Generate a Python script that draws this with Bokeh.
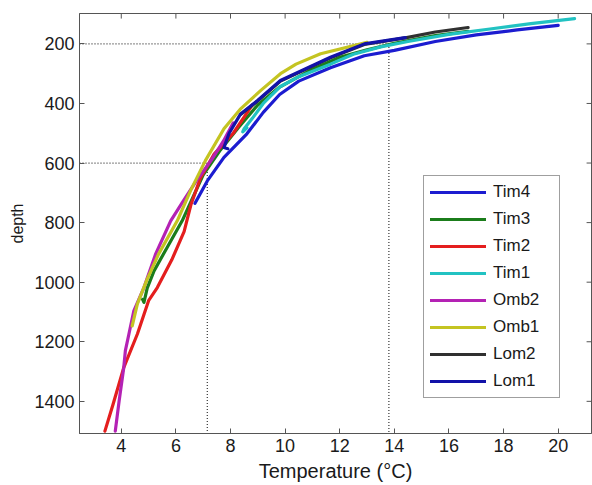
from bokeh.plotting import figure
from bokeh.models import Range1d, FixedTicker, Legend, LegendItem
from bokeh.embed import file_html
from bokeh.resources import INLINE

# ---- data (temperature °C, depth) ----
tim4_temp  = [20.0, 18.5, 17.0, 15.5, 14.0, 12.9, 11.66, 10.5, 9.8, 9.2, 8.6, 7.76, 7.15, 6.7]
tim4_depth = [138, 153, 170, 192, 222, 240, 280, 325, 370, 430, 502, 581, 660, 735]

tim3_temp  = [16.7, 15.5, 14.0, 13.0, 12.0, 11.0, 9.8, 9.0, 8.3, 7.6, 7.0, 6.6, 6.23, 5.7, 5.2, 4.95, 4.83, 4.78]
tim3_depth = [158, 172, 198, 220, 245, 285, 345, 405, 480, 560, 640, 720, 794, 880, 962, 1020, 1068, 1058]

tim2_temp  = [8.8, 8.1, 7.4, 6.9, 6.55, 6.3, 5.85, 5.32, 5.0, 4.59, 4.09, 3.7, 3.4]
tim2_depth = [405, 500, 570, 650, 740, 830, 925, 1018, 1062, 1174, 1287, 1410, 1500]

tim1_temp  = [20.6, 19.0, 17.5, 16.0, 14.5, 13.5, 12.5, 11.66, 10.5, 9.83, 9.2, 8.8, 8.5, 8.45, 8.6]
tim1_depth = [115, 132, 150, 168, 192, 210, 235, 268, 310, 343, 400, 450, 485, 495, 482]

omb2_temp  = [8.1, 7.75, 7.3, 6.75, 6.25, 5.81, 5.26, 4.83, 4.46, 4.28, 4.15, 4.09, 3.92, 3.78]
omb2_depth = [465, 525, 590, 660, 730, 794, 905, 1018, 1096, 1174, 1230, 1287, 1400, 1500]

omb1_temp  = [13.0, 11.3, 10.4, 9.83, 9.1, 8.35, 7.76, 7.08, 6.55, 6.05, 5.37, 4.95, 4.59, 4.4]
omb1_depth = [195, 233, 268, 300, 357, 420, 485, 592, 690, 794, 905, 990, 1073, 1147]

lom2_temp  = [16.7, 15.5, 14.4, 12.9, 11.66, 9.83, 8.98, 8.37]
lom2_depth = [145, 160, 180, 202, 247, 325, 393, 437]

lom1_temp  = [14.4, 12.9, 11.66, 9.83, 8.98, 8.37, 7.95, 7.76, 7.9]
lom1_depth = [179, 200, 245, 323, 391, 435, 500, 548, 552]

series_names = ["Tim4", "Tim3", "Tim2", "Tim1", "Omb2", "Omb1", "Lom2", "Lom1"]
series_temp = [tim4_temp, tim3_temp, tim2_temp, tim1_temp, omb2_temp, omb1_temp, lom2_temp, lom1_temp]
series_depth = [tim4_depth, tim3_depth, tim2_depth, tim1_depth, omb2_depth, omb1_depth, lom2_depth, lom1_depth]
series_colors = ["#1c1cd0", "#1b7d1b", "#e41e1e", "#22c2c2", "#b422b4", "#c4c422", "#303030", "#1212a8"]

ref_temps = [13.8, 7.15]
ref_depths = [200, 600]

x_ticks = [4, 6, 8, 10, 12, 14, 16, 18, 20]
y_ticks = [200, 400, 600, 800, 1000, 1200, 1400]

X_MIN, X_MAX = 2.47, 21.22
Y_BOTTOM, Y_TOP = 1508, 98
TICK_X = 0.18   # ~5 px in temperature units
TICK_Y = 17     # ~5 px in depth units

FONT = "Liberation Sans"
TXT = "#1a1a1a"
AX = "#555555"

p = figure(width=592, height=485, output_backend="svg", toolbar_location=None,
           x_range=Range1d(X_MIN, X_MAX), y_range=Range1d(Y_BOTTOM, Y_TOP))
p.min_border_left = 79
p.min_border_right = 1
p.min_border_top = 13
p.min_border_bottom = 52
p.background_fill_color = "white"
p.border_fill_color = "white"
p.outline_line_color = AX
p.outline_line_width = 1
p.xgrid.visible = False
p.ygrid.visible = False

for ax in (p.xaxis[0], p.yaxis[0]):
    ax.major_tick_in = 5
    ax.major_tick_out = 0
    ax.minor_tick_line_color = None
    ax.axis_line_color = AX
    ax.major_tick_line_color = AX
    ax.major_label_text_font = FONT
    ax.major_label_text_font_size = "18px"
    ax.major_label_text_color = TXT
    ax.axis_label_text_font = FONT
    ax.axis_label_text_font_style = "normal"
    ax.axis_label_text_color = TXT

p.xaxis.ticker = FixedTicker(ticks=x_ticks)
p.yaxis.ticker = FixedTicker(ticks=y_ticks)
p.xaxis.axis_label = "Temperature (°C)"
p.yaxis.axis_label = "depth"
p.xaxis.axis_label_text_font_size = "20px"
p.yaxis.axis_label_text_font_size = "16px"
p.xaxis.major_label_standoff = 5
p.xaxis.axis_label_standoff = 5
p.yaxis.major_label_standoff = 5
p.yaxis.axis_label_standoff = 5

# mirrored tick marks on the top and right edges of the box
p.segment(x0=x_ticks, y0=[Y_TOP] * len(x_ticks), x1=x_ticks, y1=[Y_TOP + TICK_Y] * len(x_ticks),
          line_color=AX, line_width=1)
p.segment(x0=[X_MAX] * len(y_ticks), y0=y_ticks, x1=[X_MAX - TICK_X] * len(y_ticks), y1=y_ticks,
          line_color=AX, line_width=1)

# dotted reference lines
p.segment(x0=[X_MIN] * len(ref_temps), y0=ref_depths, x1=ref_temps, y1=ref_depths,
          line_color="#333333", line_width=1.2, line_dash="1 2")
p.segment(x0=ref_temps, y0=ref_depths, x1=ref_temps, y1=[Y_BOTTOM] * len(ref_temps),
          line_color="#333333", line_width=1.2, line_dash="1 2")

items = []
for name, t, d, c in zip(series_names, series_temp, series_depth, series_colors):
    r = p.line(t, d, line_color=c, line_width=3.2, line_join="round", line_cap="round")
    items.append(LegendItem(label=name, renderers=[r]))

legend = Legend(items=items, location=(344, 35), glyph_width=56, glyph_height=18,
                label_height=18, spacing=7, padding=6, label_standoff=7, label_width=60,
                label_text_font=FONT, label_text_font_size="17px", label_text_color=TXT,
                border_line_color="#404040", border_line_width=1,
                background_fill_color="white", background_fill_alpha=1.0)
p.add_layout(legend, "center")

open("out.html", "w").write(file_html(p, INLINE))
